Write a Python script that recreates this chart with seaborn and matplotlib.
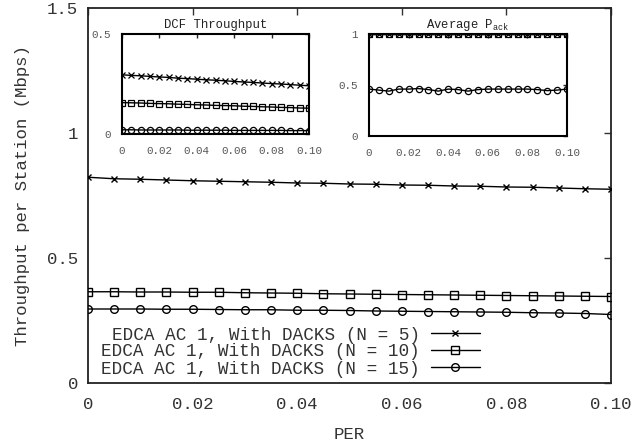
import matplotlib
matplotlib.use("Agg")
import matplotlib.pyplot as plt
import seaborn as sns
import pandas as pd

# ---------------- data ----------------
per = [0.0, 0.005, 0.01, 0.015, 0.02, 0.025, 0.03, 0.035, 0.04, 0.045, 0.05,
       0.055, 0.06, 0.065, 0.07, 0.075, 0.08, 0.085, 0.09, 0.095, 0.1]

thr_n5 = [0.823, 0.817, 0.815, 0.812, 0.809, 0.807, 0.805, 0.803, 0.800, 0.799, 0.796,
          0.795, 0.792, 0.791, 0.788, 0.787, 0.784, 0.783, 0.780, 0.777, 0.775]
thr_n10 = [0.365, 0.365, 0.364, 0.364, 0.363, 0.363, 0.361, 0.360, 0.359, 0.357, 0.356,
           0.355, 0.354, 0.353, 0.352, 0.351, 0.350, 0.349, 0.348, 0.347, 0.346]
thr_n15 = [0.296, 0.296, 0.296, 0.295, 0.295, 0.294, 0.293, 0.293, 0.291, 0.291, 0.290,
           0.288, 0.287, 0.286, 0.285, 0.284, 0.283, 0.281, 0.280, 0.278, 0.274]

dcf_n5 = [0.296, 0.293, 0.291, 0.288, 0.285, 0.283, 0.279, 0.277, 0.274, 0.271, 0.269,
          0.266, 0.263, 0.260, 0.258, 0.255, 0.252, 0.250, 0.247, 0.244, 0.241]
dcf_n10 = [0.157, 0.156, 0.155, 0.153, 0.152, 0.151, 0.149, 0.148, 0.146, 0.145, 0.143,
           0.142, 0.141, 0.139, 0.138, 0.136, 0.135, 0.133, 0.132, 0.130, 0.129]
dcf_n15 = [0.021, 0.021, 0.020, 0.020, 0.020, 0.020, 0.020, 0.019, 0.019, 0.019, 0.019,
           0.019, 0.018, 0.018, 0.018, 0.018, 0.018, 0.018, 0.017, 0.017, 0.017]

pack_n5 = [1.0] * 21
pack_n10 = [1.0] * 21
pack_n15 = [0.46, 0.45, 0.44, 0.46, 0.46, 0.465, 0.455, 0.44, 0.46, 0.455, 0.44,
            0.455, 0.46, 0.46, 0.46, 0.46, 0.46, 0.455, 0.445, 0.45, 0.46]

labels = ["EDCA AC 1, With DACKS (N = 5)",
          "EDCA AC 1, With DACKS (N = 10)",
          "EDCA AC 1, With DACKS (N = 15)"]
x_ticks = [0, 0.02, 0.04, 0.06, 0.08, 0.10]
x_ticklabels = ["0", "0.02", "0.04", "0.06", "0.08", "0.10"]
y_ticks = [0, 0.5, 1, 1.5]
y_ticklabels = ["0", "0.5", "1", "1.5"]

# ---------------- style ----------------
sns.set_style("white")
plt.rcParams["font.family"] = ["Liberation Mono", "DejaVu Sans Mono"]
plt.rcParams["mathtext.fontset"] = "custom"
plt.rcParams["mathtext.rm"] = "Liberation Mono"
plt.rcParams["mathtext.default"] = "regular"

markers = ["x", "s", "o"]
W, H = 632, 443
fig = plt.figure(figsize=(W / 100, H / 100), dpi=100)


def fig_rect(l, r, t, b):
    return [l / W, 1 - b / H, (r - l) / W, (b - t) / H]


def draw_series(ax, series, ms, mew, lw, with_labels):
    for i, (vals, mk) in enumerate(zip(series, markers)):
        df = pd.DataFrame({"PER": per, "val": vals})
        sns.lineplot(data=df, x="PER", y="val", ax=ax, color="black",
                     marker=mk, markersize=ms if mk != "x" else ms * 0.85,
                     markerfacecolor="none", markeredgecolor="black",
                     markeredgewidth=mew, linewidth=lw,
                     label=labels[i] if with_labels else None,
                     legend=False, zorder=3)


# ---------------- main axes ----------------
ax = fig.add_axes(fig_rect(88, 611, 8, 383))
draw_series(ax, [thr_n5, thr_n10, thr_n15], ms=5.5, mew=1.0, lw=1.0, with_labels=True)
ax.set_xlim(0, 0.1)
ax.set_ylim(0, 1.5)
ax.set_xticks(x_ticks)
ax.set_xticklabels(x_ticklabels)
ax.set_yticks(y_ticks)
ax.set_yticklabels(y_ticklabels)
ax.tick_params(direction="in", length=5, width=1.0, top=True, right=True,
               labelsize=12.5, labelcolor="#333333", color="#333333")
ax.tick_params(axis="x", pad=10)
ax.tick_params(axis="y", pad=7)
for s in ax.spines.values():
    s.set_color("#222222")
    s.set_linewidth(1.3)
ax.set_xlabel("PER", fontsize=12.5, color="#333333", labelpad=11)
ax.set_ylabel("Throughput per Station (Mbps)", fontsize=12.5, color="#333333", labelpad=12)

leg = ax.legend(loc="center right", bbox_to_anchor=(480 / W, 1 - 352 / H),
                bbox_transform=fig.transFigure, frameon=False, markerfirst=False,
                fontsize=12.7, handlelength=2.8, handletextpad=0.6,
                labelspacing=0.0, borderpad=0, borderaxespad=0)
for t in leg.get_texts():
    t.set_color("#333333")


# ---------------- insets ----------------
def style_inset(a, ylim, yticks, yticklabels, title):
    a.set_xlim(0, 0.1)
    a.set_ylim(*ylim)
    a.set_xticks(x_ticks)
    a.set_xticklabels(x_ticklabels)
    a.set_yticks(yticks)
    a.set_yticklabels(yticklabels)
    a.set_xlabel("")
    a.set_ylabel("")
    a.tick_params(direction="in", length=3, width=1.0, top=True, right=True,
                  labelsize=7.8, labelcolor="#555555")
    a.tick_params(axis="x", pad=9)
    a.tick_params(axis="y", pad=8)
    for s in a.spines.values():
        s.set_color("black")
        s.set_linewidth(1.5)
    a.set_title(title, fontsize=8.8, color="#222222", pad=4)
    a.patch.set_alpha(0)


ax1 = fig.add_axes(fig_rect(122, 309, 34, 134))
draw_series(ax1, [dcf_n5, dcf_n10, dcf_n15], ms=4.5, mew=0.9, lw=1.0, with_labels=False)
style_inset(ax1, (0, 0.5), [0, 0.5], ["0", "0.5"], "DCF Throughput")

ax2 = fig.add_axes(fig_rect(369, 567, 34, 136))
draw_series(ax2, [pack_n5, pack_n10, pack_n15], ms=4.5, mew=0.9, lw=1.0, with_labels=False)
style_inset(ax2, (0, 1.0), [0, 0.5, 1], ["0", "0.5", "1"], "Average P$_{ack}$")

fig.savefig("out.png", dpi=100)
